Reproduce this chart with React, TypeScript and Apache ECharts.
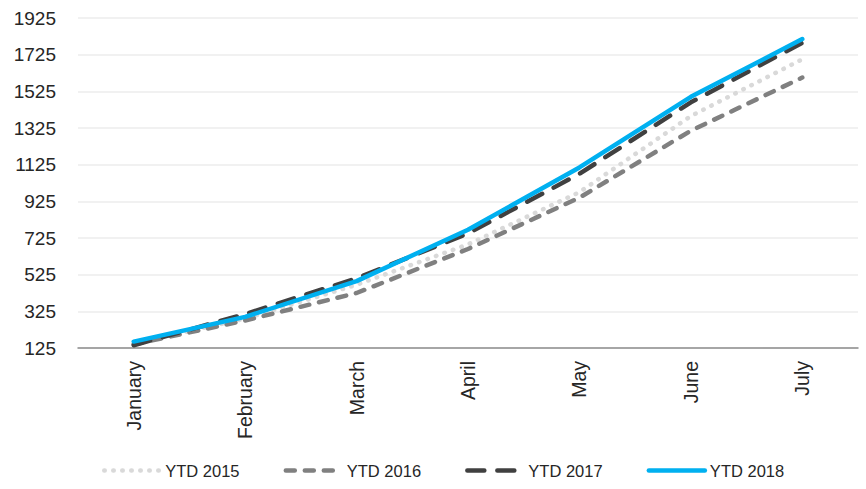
import React, { useEffect, useRef } from "react";
import * as echarts from "echarts";

const months = ["January", "February", "March", "April", "May", "June", "July"];
const ytd2015 = [150, 285, 470, 690, 975, 1390, 1700];
const ytd2016 = [145, 275, 425, 665, 945, 1310, 1600];
const ytd2017 = [140, 310, 505, 750, 1075, 1465, 1790];
const ytd2018 = [160, 295, 490, 770, 1110, 1495, 1810];
const yMin = 125;
const yMax = 1925;
const yStep = 200;

const FONT = "Liberation Sans";

export default function App() {
  const ref = useRef<HTMLDivElement>(null);
  useEffect(() => {
    document.body.style.margin = "0";
    if (!ref.current) return;
    const chart = echarts.init(ref.current, undefined, { renderer: "svg" });
    const shift = (arr: number[]) => arr.map((v) => v - yMin);
    chart.setOption({
      animation: false,
      backgroundColor: "#ffffff",
      grid: { left: 78, right: 8, top: 18, bottom: 141, containLabel: false },
      legend: {
        top: 457,
        left: 97,
        itemWidth: 56,
        itemHeight: 18,
        itemGap: 44,
        itemStyle: { opacity: 0 },
        lineStyle: { width: 4.5, cap: "round" },
        textStyle: { fontFamily: FONT, fontSize: 16.5, color: "#262626" },
        data: ["YTD 2015", "YTD 2016", "YTD 2017", "YTD 2018"],
      },
      xAxis: {
        type: "category",
        data: months,
        boundaryGap: true,
        axisLine: { lineStyle: { color: "#8c8c8c", width: 1.5 } },
        axisTick: { show: false },
        axisLabel: {
          rotate: 90,
          margin: 13,
          fontFamily: FONT,
          fontSize: 19.5,
          color: "#262626",
        },
      },
      yAxis: {
        type: "value",
        min: 0,
        max: yMax - yMin,
        interval: yStep,
        axisLine: { show: false },
        axisTick: { show: false },
        splitLine: { lineStyle: { color: "#ececec", width: 1.5 } },
        axisLabel: {
          margin: 22,
          fontFamily: FONT,
          fontSize: 19,
          color: "#262626",
          formatter: (v: number) => String(v + yMin),
        },
      },
      series: [
        {
          name: "YTD 2015",
          type: "line",
          data: shift(ytd2015),
          symbol: "none",
          color: "#d9d9d9",
          lineStyle: { color: "#d9d9d9", width: 4.5, type: [0.5, 8.5], cap: "round" },
        },
        {
          name: "YTD 2016",
          type: "line",
          data: shift(ytd2016),
          symbol: "none",
          color: "#808080",
          lineStyle: { color: "#808080", width: 4.5, type: [9, 10], cap: "round" },
        },
        {
          name: "YTD 2017",
          type: "line",
          data: shift(ytd2017),
          symbol: "none",
          color: "#404040",
          lineStyle: { color: "#404040", width: 4.5, type: [17, 13], cap: "round" },
        },
        {
          name: "YTD 2018",
          type: "line",
          data: shift(ytd2018),
          symbol: "none",
          color: "#00b0f0",
          lineStyle: { color: "#00b0f0", width: 4.5, type: "solid", cap: "round" },
        },
      ],
    });
    return () => chart.dispose();
  }, []);
  return <div ref={ref} style={{ width: 866, height: 489 }} />;
}
